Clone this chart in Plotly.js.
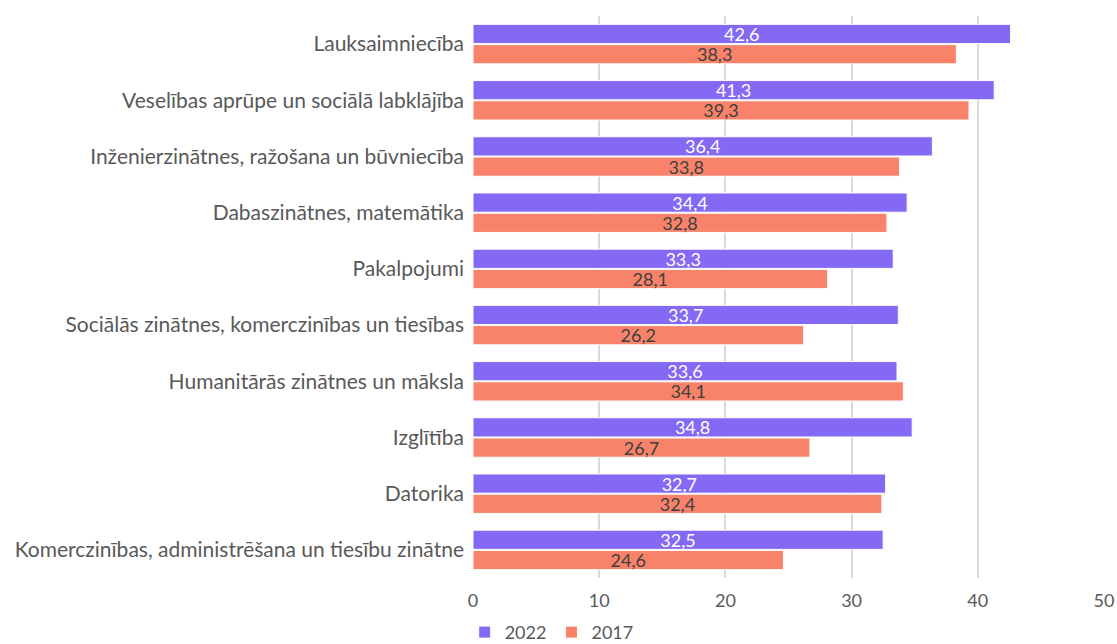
<!DOCTYPE html>
<html>
<head>
<meta charset="utf-8">
<script src="https://cdn.plot.ly/plotly-3.0.1.min.js"></script>
<style>
  html, body { margin: 0; padding: 0; background: #fff; }
  #chart { width: 1117px; height: 644px; }
</style>
</head>
<body>
<div id="chart"></div>
<script>
// -------- DATA --------
const categories = [
  'Lauksaimniecība',
  'Veselības aprūpe un sociālā labklājība',
  'Inženierzinātnes, ražošana un būvniecība',
  'Dabaszinātnes, matemātika',
  'Pakalpojumi',
  'Sociālās zinātnes, komerczinības un tiesības',
  'Humanitārās zinātnes un māksla',
  'Izglītība',
  'Datorika',
  'Komerczinības, administrēšana un tiesību zinātne'
];
const values2022 = [42.6, 41.3, 36.4, 34.4, 33.3, 33.7, 33.6, 34.8, 32.7, 32.5];
const values2017 = [38.3, 39.3, 33.8, 32.8, 28.1, 26.2, 34.1, 26.7, 32.4, 24.6];
const xTicks = [0, 10, 20, 30, 40, 50];

const FONT = 'Source Sans Pro, Lato, sans-serif';
const GREY = '#595959';

// -------- TRACES --------
const trace2022 = {
  type: 'bar', orientation: 'h', name: '2022',
  y: categories, x: values2022,
  marker: { color: '#8469F5', line: { color: '#ffffff', width: 1 } },
  texttemplate: '%{x:.1f}', textposition: 'inside', insidetextanchor: 'middle',
  constraintext: 'none',
  textfont: { color: '#ffffff', size: 18, family: FONT },
  hoverinfo: 'x+name'
};
const trace2017 = {
  type: 'bar', orientation: 'h', name: '2017',
  y: categories, x: values2017,
  marker: { color: '#F8826A', line: { color: '#ffffff', width: 1 } },
  texttemplate: '%{x:.1f}', textposition: 'inside', insidetextanchor: 'middle',
  constraintext: 'none',
  textfont: { color: '#404040', size: 18, family: FONT },
  hoverinfo: 'x+name'
};

// -------- LAYOUT --------
const layout = {
  width: 1117, height: 644,
  separators: ', ',
  font: { family: FONT, size: 18, color: GREY },
  barmode: 'group',
  bargap: 0.28,
  bargroupgap: 0.05,
  margin: { l: 473, r: 13, t: 16, b: 66, autoexpand: false },
  xaxis: {
    range: [0, 50], tickvals: xTicks, automargin: false,
    showgrid: true, gridcolor: '#d9d9d9', gridwidth: 2,
    zeroline: false, showline: false,
    ticks: '', tickfont: { size: 18, color: GREY },
    ticklabelstandoff: 10
  },
  yaxis: {
    autorange: 'reversed', type: 'category', automargin: false,
    showgrid: false, zeroline: false, showline: false,
    ticks: '', ticklabelstandoff: 8,
    tickfont: { size: 21, color: GREY }
  },
  legend: {
    orientation: 'h', xref: 'container', yref: 'container',
    x: 0.416, y: 0.018, xanchor: 'left', yanchor: 'middle',
    font: { size: 18, color: GREY },
    itemwidth: 30, tracegroupgap: 0
  },
  plot_bgcolor: '#fff', paper_bgcolor: '#fff'
};

Plotly.newPlot('chart', [trace2022, trace2017], layout, { displayModeBar: false, staticPlot: true });
</script>
</body>
</html>
